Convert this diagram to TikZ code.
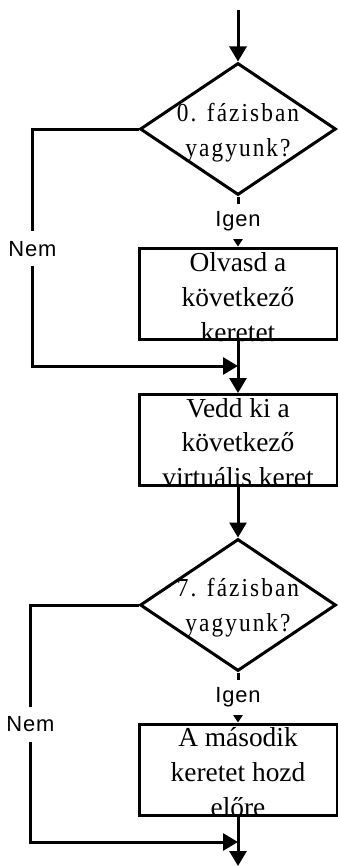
\documentclass[tikz,border=0pt]{standalone}
\usepackage{fontspec}
\setmainfont{Liberation Serif}
\newfontfamily\kerdesbetu[FakeStretch=0.9,LetterSpace=8]{Liberation Serif}
\newfontfamily\cimkebetu[LetterSpace=4]{Liberation Sans}
\usetikzlibrary{shapes.geometric,arrows.meta}
\begin{document}
\begin{tikzpicture}[x=1bp,y=-1bp,line width=3bp,
    >={Triangle[length=15bp,width=17bp]},
    dontes/.style={draw,diamond,minimum width=196bp,minimum height=132bp,inner sep=0pt},
    lepes/.style={draw,rectangle,minimum width=198bp,minimum height=91bp,inner sep=0pt},
    kerdes/.style={align=center,inner sep=0pt,font=\kerdesbetu\fontsize{26}{35}\selectfont},
    szoveg/.style={align=center,inner sep=0pt,font=\fontsize{27.5}{35}\selectfont},
    ag/.style={fill=white,inner xsep=3bp,inner ysep=0pt,minimum height=35bp,font=\cimkebetu\fontsize{22}{24}\selectfont},
    kis/.style={-{Triangle[length=8bp,width=10bp]}}]
    \useasboundingbox (0,0) rectangle (337,866);
    % elso dontes es a ket lepes
    \coordinate (be) at (238,10);
    \node[dontes] (d1) at (238,129) {};
    \node[kerdes,yshift=-3.5bp] (d1t) at (d1) {0. fázisban\\yagyunk?};
    \node[lepes] (b1) at (238,293.5) {};
    \node[szoveg,yshift=-3.5bp] (b1t) at (b1) {Olvasd a\\következő\\keretet};
    \coordinate (j1) at (238,366);
    \node[lepes] (b2) at (238,440) {};
    \node[szoveg,yshift=-2.5bp] (b2t) at (b2) {Vedd ki a\\következő\\virtuális keret};
    % masodik dontes
    \node[dontes] (d2) at (238,605) {};
    \node[kerdes,yshift=-3bp] (d2t) at (d2) {7. fázisban\\yagyunk?};
    \node[lepes] (b3) at (238,769.5) {};
    \node[szoveg,yshift=-2.5bp] (b3t) at (b3) {A második\\keretet hozd\\előre};
    \coordinate (j2) at (238,842);
    \coordinate (ki) at (238,866);
    % nyilak
    \draw[->] (be) -- (d1.north);
    \draw[kis] (d1.south) -- node[ag] {Igen} (b1.north);
    \draw[->] (d1.west) -- ++(-106,0) |- node[ag,pos=0.253] {Nem} (j1);
    \draw[->] (b1.south) -- (b2.north);
    \draw[->] (b2.south) -- (d2.north);
    \draw[kis] (d2.south) -- node[ag] {Igen} (b3.north);
    \draw[->] (d2.west) -- ++(-108,0) |- node[ag,pos=0.252] {Nem} (j2);
    \draw[->] (b3.south) -- (ki);
\end{tikzpicture}
\end{document}
